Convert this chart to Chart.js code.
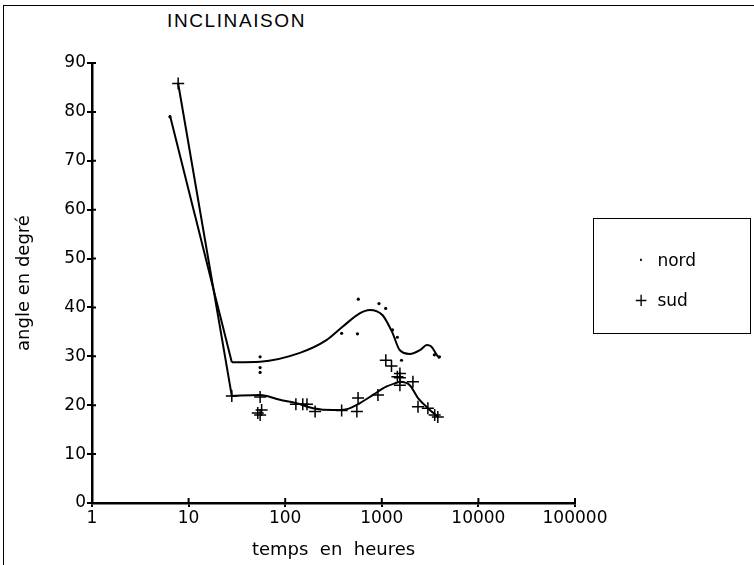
<!DOCTYPE html>
<html lang="fr">
<head>
    <meta charset="UTF-8">
    <title>Inclinaison</title>
    <script src="https://cdn.jsdelivr.net/npm/chart.js"></script>
    <style>
        body { margin: 0; background: #fff; font-family: 'DejaVu Sans', sans-serif; }
        #wrap { position: relative; width: 754px; height: 565px; overflow: hidden; }
        #frame { position: absolute; left: 3px; top: 5px; width: 760px; height: 570px;
                 border-left: 1px solid #000; border-top: 1px solid #000; }
        #titre { position: absolute; left: 167px; top: 10px; font-family: 'Liberation Sans', Arial, sans-serif;
                 font-size: 19px; letter-spacing: 1.6px; color: #000; }
        #legende { position: absolute; left: 593px; top: 218px; width: 156px; height: 114px;
                   border: 1px solid #000; font-size: 17px; color: #000; }
        .item { position: absolute; left: 36px; }
        .sym { display: inline-block; width: 22px; text-align: center; }
        canvas { position: absolute; left: 0; top: 0; }
    </style>
</head>
<body>
<div id="wrap">
    <div id="frame"></div>
    <div id="titre">INCLINAISON</div>
    <canvas id="graphe" width="754" height="565"></canvas>
    <div id="legende">
        <div class="item" style="top:31px"><span class="sym">·</span> nord</div>
        <div class="item" style="top:71px"><span class="sym">+</span> sud</div>
    </div>
</div>

<script>
    // mesures (temps en heures, angle en degrés)
    const nordHeures = [6.4, 55, 55, 55, 384, 571, 560, 935, 1097, 1290, 1450, 1600, 3500, 3950];
    const nordAngle  = [79, 29.9, 27.7, 26.7, 34.7, 41.7, 34.6, 40.8, 39.8, 35.4, 33.9, 29.2, 30.3, 29.9];

    const sudHeures = [7.8, 28, 55, 52, 55, 57, 129, 152, 168, 204, 384, 568, 552, 912, 1100, 1260, 1450, 1540, 1540, 1540, 2100, 2370, 3000, 3530, 3800];
    const sudAngle  = [85.8, 21.9, 21.7, 18.4, 18, 19, 20.2, 20.2, 20.2, 18.7, 18.9, 21.5, 18.7, 22.1, 29.2, 28.0, 25.8, 26.5, 25.6, 24.1, 24.8, 19.7, 19.4, 18, 17.6];

    // courbes lissées
    const nordChuteHeures = [6.4, 28];
    const nordChuteAngle  = [79.3, 28.8];
    const nordCourbeHeures = [28, 55, 142, 267, 395, 590, 750, 1020, 1290, 1530, 1950, 2500, 2930, 3250, 3700, 3950];
    const nordCourbeAngle  = [28.8, 28.9, 30.7, 33.3, 36.1, 38.8, 39.5, 38.4, 34.8, 31.3, 30.5, 31.3, 32.3, 32, 30.3, 29.6];

    const sudChuteHeures = [7.8, 28];
    const sudChuteAngle  = [85.8, 21.9];
    const sudCourbeHeures = [28, 55, 88, 131, 194, 310, 433, 590, 810, 1110, 1430, 1540, 1950, 2360, 3000, 3830];
    const sudCourbeAngle  = [21.9, 22.1, 21.1, 20.4, 19.4, 19.0, 19.2, 20.4, 22.1, 23.8, 24.6, 24.8, 24.1, 21.5, 19.4, 17.6];

    const xTicks = [1, 10, 100, 1000, 10000, 100000];
    const yTicks = [0, 10, 20, 30, 40, 50, 60, 70, 80, 90];

    const pts = (xs, ys) => xs.map((x, i) => ({ x: x, y: ys[i] }));

    const ligne = (xs, ys, smooth) => ({
        data: pts(xs, ys),
        showLine: true,
        borderColor: "#000",
        borderWidth: 2,
        pointRadius: 0,
        fill: false,
        cubicInterpolationMode: smooth ? "monotone" : "default",
        tension: 0
    });

    const police = { family: "'DejaVu Sans', sans-serif", size: 17 };
    const policeTitre = { family: "'DejaVu Sans', sans-serif", size: 18 };

    // petits traits de graduation vers l'intérieur (les graduations traversent l'axe)
    const traitsInterieurs = {
        id: "traitsInterieurs",
        afterDraw(chart) {
            const ctx = chart.ctx, x = chart.scales.x, y = chart.scales.y;
            ctx.save();
            ctx.strokeStyle = "#000";
            ctx.lineWidth = 2;
            ctx.beginPath();
            xTicks.forEach(v => {
                const px = x.getPixelForValue(v);
                ctx.moveTo(px, y.bottom); ctx.lineTo(px, y.bottom - 5);
            });
            yTicks.forEach(v => {
                const py = y.getPixelForValue(v);
                ctx.moveTo(x.left, py); ctx.lineTo(x.left + 4, py);
            });
            ctx.stroke();
            ctx.restore();
        }
    };

    new Chart(document.getElementById("graphe"), {
        type: "scatter",
        data: {
            datasets: [
                ligne(nordChuteHeures, nordChuteAngle, false),
                ligne(nordCourbeHeures, nordCourbeAngle, true),
                ligne(sudChuteHeures, sudChuteAngle, false),
                ligne(sudCourbeHeures, sudCourbeAngle, true),
                {
                    label: "nord",
                    data: pts(nordHeures, nordAngle),
                    pointStyle: "circle",
                    pointRadius: 1.6,
                    backgroundColor: "#000",
                    borderColor: "#000",
                    borderWidth: 0
                },
                {
                    label: "sud",
                    data: pts(sudHeures, sudAngle),
                    pointStyle: "cross",
                    pointRadius: 6,
                    borderColor: "#000",
                    borderWidth: 1.5
                }
            ]
        },
        options: {
            responsive: false,
            animation: false,
            layout: { padding: { left: 0, top: 63, right: 179, bottom: 0 } },
            plugins: { legend: { display: false }, tooltip: { enabled: false } },
            scales: {
                x: {
                    type: "logarithmic",
                    min: 1,
                    max: 100000,
                    afterBuildTicks: s => { s.ticks = xTicks.map(v => ({ value: v })); },
                    afterFit: s => { s.height = 62; },
                    border: { color: "#000", width: 2.5 },
                    grid: { drawOnChartArea: false, drawTicks: true, tickLength: 4, color: "#000", lineWidth: 2 },
                    ticks: { color: "#000", font: police, padding: 1, maxRotation: 0,
                             callback: v => String(v) },
                    title: { display: true, text: "temps  en  heures", color: "#000",
                             font: policeTitre, padding: { top: 2 } }
                },
                y: {
                    min: 0,
                    max: 90,
                    afterBuildTicks: s => { s.ticks = yTicks.map(v => ({ value: v })); },
                    afterFit: s => { s.width = 92; },
                    border: { color: "#000", width: 2.5 },
                    grid: { drawOnChartArea: false, drawTicks: true, tickLength: 5, color: "#000", lineWidth: 2 },
                    ticks: { color: "#000", font: police, padding: 1 },
                    title: { display: true, text: "angle en degré", color: "#000",
                             font: policeTitre, padding: { top: 14, bottom: 0 } }
                }
            }
        },
        plugins: [traitsInterieurs]
    });
</script>
</body>
</html>
